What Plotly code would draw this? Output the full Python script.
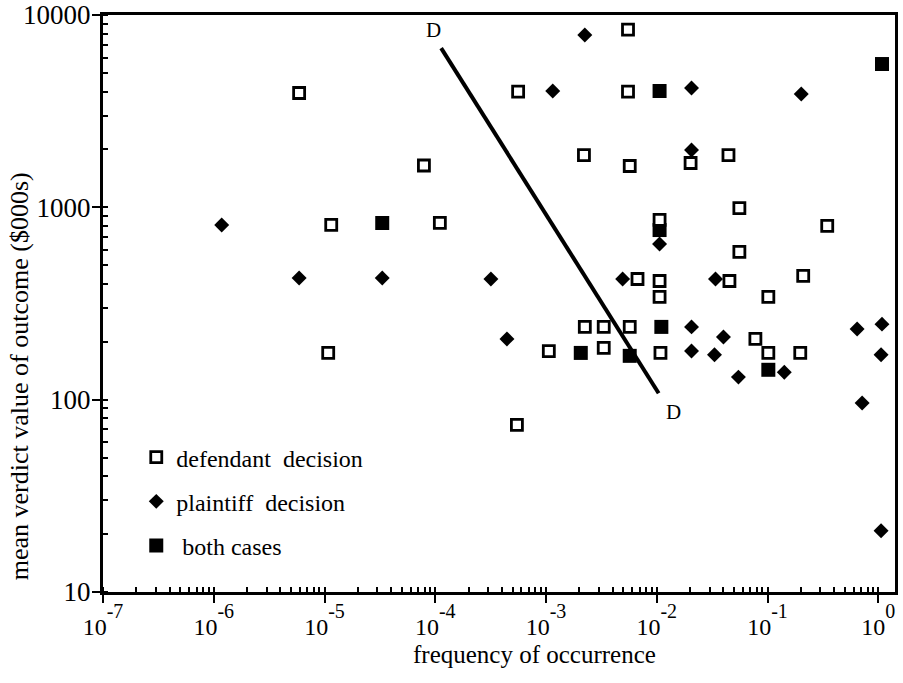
import numpy as np
import plotly.graph_objects as go

# ---- data ----
defendant_freq = [5.9e-6, 7.9e-5, 1.15e-5, 1.1e-4, 1.08e-5, 5.5e-3, 5.6e-4, 5.5e-3, 2.2e-3, 5.7e-3,
                  0.0202, 0.0444, 0.0557, 0.346, 0.0106, 0.0557, 6.7e-3, 0.0106, 0.0453, 0.210,
                  0.0106, 0.1017, 2.24e-3, 3.32e-3, 5.7e-3, 0.0777, 1.06e-3, 3.32e-3, 0.0108, 0.1017,
                  0.1975, 5.46e-4]
defendant_value = [3930, 1650, 810, 830, 175, 8400, 4000, 4000, 1870, 1640,
                   1700, 1870, 990, 800, 860, 586, 424, 414, 414, 440,
                   342, 342, 239, 239, 239, 207, 179, 186, 175, 175,
                   175, 74]

plaintiff_freq = [1.18e-6, 5.9e-6, 3.32e-5, 2.24e-3, 1.15e-3, 0.0206, 0.2016, 0.0206, 0.0106, 3.18e-4,
                  4.92e-3, 0.0339, 0.0206, 0.040, 0.644, 1.08, 4.44e-4, 0.0206, 0.0332, 1.06,
                  0.0546, 0.1417, 0.715, 1.06]
plaintiff_value = [809, 429, 429, 7870, 4025, 4170, 3885, 1987, 645, 424,
                   424, 424, 239, 212, 233, 247, 207, 179, 171, 171,
                   131, 139, 96, 20.8]

both_freq = [3.32e-5, 0.0106, 1.08, 0.0106, 0.0110, 2.06e-3, 5.7e-3, 0.1017]
both_value = [829, 4025, 5560, 762, 239, 175, 169, 143]

line_freq = [1.13e-4, 0.0104]
line_value = [6730, 108]

label_text = ["D", "D"]
label_freq = [9.6e-5, 0.0142]
label_value = [8360, 86]

x_tick_exp = [-7, -6, -5, -4, -3, -2, -1, 0]
y_tick_vals = [10, 100, 1000, 10000]

FONT = "Liberation Serif, Times New Roman, serif"

fig = go.Figure()

fig.add_trace(go.Scatter(x=line_freq, y=line_value, mode="lines",
                         line=dict(color="black", width=4), showlegend=False, hoverinfo="skip"))

fig.add_trace(go.Scatter(x=plaintiff_freq, y=plaintiff_value, mode="markers",
                         name="plaintiff\u00a0 decision", legendrank=2, legendgroup="p",
                         marker=dict(symbol="diamond", size=11.5, color="black",
                                     line=dict(width=0))))

fig.add_trace(go.Scatter(x=both_freq, y=both_value, mode="markers",
                         name="\u00a0both cases", legendrank=3, legendgroup="b",
                         marker=dict(symbol="square", size=14, color="black",
                                     line=dict(width=0))))

fig.add_trace(go.Scatter(x=defendant_freq, y=defendant_value, mode="markers",
                         name="defendant\u00a0 decision", legendrank=1, legendgroup="d",
                         marker=dict(symbol="square", size=11, color="white",
                                     line=dict(width=2.8, color="black"))))

for t, fx, vy in zip(label_text, label_freq, label_value):
    fig.add_annotation(x=np.log10(fx), y=np.log10(vy), text=t, showarrow=False,
                       font=dict(family=FONT, size=21, color="black"))

x_ticktext = ["10<sup><sup><span style='font-size:20px'>%d</span></sup></sup>" % e for e in x_tick_exp]

fig.update_xaxes(type="log", range=[-7, 0.151], automargin=False,
                 tickvals=[10.0 ** e for e in x_tick_exp], ticktext=x_ticktext,
                 ticks="outside", ticklen=8, tickwidth=2, tickcolor="black",
                 ticklabelstandoff=3,
                 showline=True, linewidth=3, linecolor="black", mirror=True,
                 showgrid=False, zeroline=False,
                 minor=dict(ticks="inside", ticklen=5, tickwidth=1.5, tickcolor="black",
                            dtick="D1", showgrid=False),
                 tickfont=dict(family=FONT, size=24, color="black"))

fig.update_yaxes(type="log", range=[1, 4], automargin=False,
                 tickvals=y_tick_vals, ticktext=[str(v) for v in y_tick_vals],
                 ticks="outside", ticklen=8, tickwidth=2, tickcolor="black",
                 ticklabelstandoff=-4,
                 showline=True, linewidth=3, linecolor="black", mirror=True,
                 showgrid=False, zeroline=False,
                 minor=dict(ticks="inside", ticklen=5, tickwidth=1.5, tickcolor="black",
                            dtick="D1", showgrid=False),
                 tickfont=dict(family=FONT, size=27, color="black"))

fig.add_annotation(xref="paper", yref="paper", x=0.545, y=-0.108,
                   text="frequency of occurrence", showarrow=False,
                   xanchor="center", yanchor="middle",
                   font=dict(family=FONT, size=25, color="black"))
fig.add_annotation(xref="paper", yref="paper", x=-0.106, y=0.374,
                   text="mean verdict value of outcome ($000s)", showarrow=False,
                   textangle=-90, xanchor="center", yanchor="middle",
                   font=dict(family=FONT, size=26, color="black"))

fig.update_layout(
    width=903, height=683,
    margin=dict(l=103, r=8, t=15, b=91),
    paper_bgcolor="white", plot_bgcolor="white",
    font=dict(family=FONT, size=24, color="black"),
    showlegend=True,
    legend=dict(x=0.042, y=0.272, xanchor="left", yanchor="top",
                bgcolor="rgba(0,0,0,0)", tracegroupgap=10,
                font=dict(family=FONT, size=24, color="black")),
)

fig.write_html("out.html", config={"displayModeBar": False},
               post_script="document.body.style.margin='0';document.body.style.overflow='hidden';")
